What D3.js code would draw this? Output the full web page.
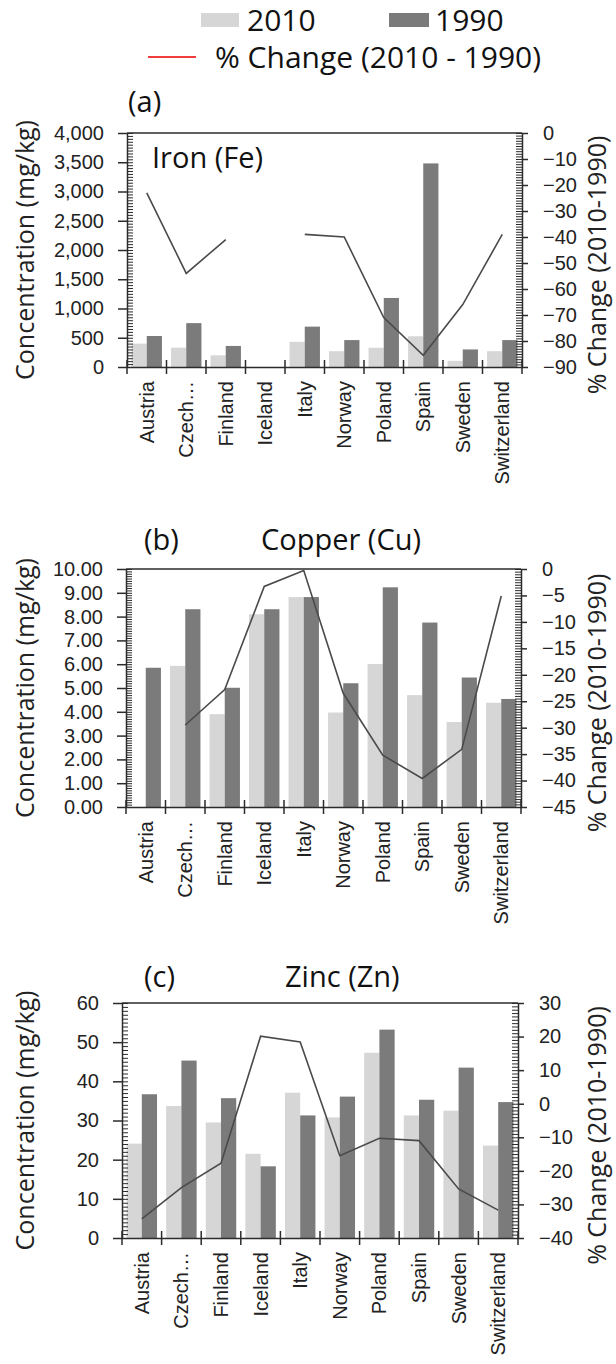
<!DOCTYPE html>
<html>
<head>
<meta charset="utf-8">
<script src="https://cdn.jsdelivr.net/npm/d3@7"></script>
<style>
  body { margin: 0; background: #fff; }
  svg { display: block; font-family: 'Open Sans', sans-serif; }
</style>
</head>
<body>
<div id="chart"></div>
<script>
// ---- data ----
const countries = ['Austria', 'Czech…', 'Finland', 'Iceland', 'Italy', 'Norway', 'Poland', 'Spain', 'Sweden', 'Switzerland'];

const fe2010 = [400, 330, 200, null, 430, 270, 330, 525, 105, 270];
const fe1990 = [530, 750, 360, null, 690, 460, 1180, 3480, 300, 460];
const feChange = [-23, -54, -41, null, -39, -40, -71, -85.5, -66, -39];

const cu2010 = [null, 5.93, 3.90, 8.10, 8.82, 3.97, 6.01, 4.70, 3.57, 4.38];
const cu1990 = [5.85, 8.31, 5.01, 8.31, 8.82, 5.20, 9.23, 7.75, 5.44, 4.54];
const cuChange = [null, -29.5, -22.8, -3.3, -0.3, -23.5, -35.2, -39.6, -34.1, -5.1];

const zn2010 = [24.1, 33.7, 29.5, 21.5, 37.1, 30.8, 47.3, 31.3, 32.5, 23.6];
const zn1990 = [36.7, 45.3, 35.7, 18.3, 31.3, 36.1, 53.2, 35.3, 43.5, 34.7];
const znChange = [-34.3, -25, -17.7, 20.1, 18.4, -15.5, -10.3, -11, -25.4, -31.7];

const legendLabels = ['2010', '1990', '% Change (2010 - 1990)'];

const colors = { y2010: '#d6d6d6', y1990: '#7b7b7b', line: '#4a4a4a', legendLine: '#f03c3c', axis: '#2b2b2b' };

const svg = d3.select('#chart').append('svg')
    .attr('width', 616)
    .attr('height', 1364);

class ComboChart {

  constructor(_config, _data) {
    this.config = _config;
    this.data = _data;
    this.initVis();
  }

  initVis() {
    let vis = this;
    const c = vis.config;

    vis.chart = svg.append('g');

    vis.x = d3.scaleBand()
        .domain(countries)
        .range([c.left, c.right]);

    vis.xSub = d3.scaleBand()
        .domain(['2010', '1990'])
        .range([0, vis.x.bandwidth()])
        .paddingInner(0)
        .paddingOuter(0.3);

    vis.y = d3.scaleLinear().domain(c.yDomain).range([c.bottom, c.top]);
    vis.y2 = d3.scaleLinear().domain(c.y2Domain).range([c.bottom, c.top]);

    vis.renderVis();
  }

  renderVis() {
    let vis = this;
    const c = vis.config;

    const rows = countries.map((d, i) => ({
      country: d, v2010: vis.data.a[i], v1990: vis.data.b[i], change: vis.data.change[i]
    }));

    // bars
    const bars = [];
    rows.forEach(r => {
      if (r.v2010 != null) bars.push({ country: r.country, key: '2010', value: r.v2010 });
      if (r.v1990 != null) bars.push({ country: r.country, key: '1990', value: r.v1990 });
    });

    vis.chart.selectAll('.bar')
        .data(bars)
      .join('rect')
        .attr('class', 'bar')
        .attr('x', d => vis.x(d.country) + vis.xSub(d.key))
        .attr('width', vis.xSub.bandwidth())
        .attr('y', d => vis.y(d.value))
        .attr('height', d => vis.y(0) - vis.y(d.value))
        .attr('fill', d => d.key === '2010' ? colors.y2010 : colors.y1990);

    // minor ticks (inside) on both vertical axes
    const minorL = d3.range(0, Math.round((c.yDomain[1] - c.yDomain[0]) / c.yMinor) + 1)
        .map(i => c.yDomain[0] + i * c.yMinor);
    const minorR = d3.range(0, Math.round((c.y2Domain[1] - c.y2Domain[0]) / c.y2Minor) + 1)
        .map(i => c.y2Domain[0] + i * c.y2Minor);

    vis.chart.append('g')
        .attr('transform', `translate(${c.left},0)`)
        .call(d3.axisRight(vis.y).tickValues(minorL).tickSize(6).tickFormat('').tickSizeOuter(0))
        .call(g => g.select('.domain').remove())
        .call(g => g.selectAll('line').attr('stroke', colors.axis).attr('stroke-width', 1));

    vis.chart.append('g')
        .attr('transform', `translate(${c.right},0)`)
        .call(d3.axisLeft(vis.y2).tickValues(minorR).tickSize(6).tickFormat('').tickSizeOuter(0))
        .call(g => g.select('.domain').remove())
        .call(g => g.selectAll('line').attr('stroke', colors.axis).attr('stroke-width', 1));

    // left axis
    const yTicks = d3.range(0, Math.round((c.yDomain[1] - c.yDomain[0]) / c.yStep) + 1)
        .map(i => c.yDomain[0] + i * c.yStep);
    vis.chart.append('g')
        .attr('transform', `translate(${c.left},0)`)
        .call(d3.axisLeft(vis.y).tickValues(yTicks).tickSize(9).tickSizeOuter(0)
            .tickPadding(14).tickFormat(c.yFormat))
        .call(g => g.selectAll('line').attr('stroke', colors.axis).attr('stroke-width', 1.5))
        .call(g => g.select('.domain').attr('stroke', colors.axis).attr('stroke-width', 1.5))
        .call(g => g.selectAll('text').attr('font-size', 20).attr('fill', '#222'));

    // right axis
    const y2Ticks = d3.range(0, Math.round((c.y2Domain[1] - c.y2Domain[0]) / c.y2Step) + 1)
        .map(i => c.y2Domain[0] + i * c.y2Step);
    vis.chart.append('g')
        .attr('transform', `translate(${c.right},0)`)
        .call(d3.axisRight(vis.y2).tickValues(y2Ticks).tickSize(6).tickSizeOuter(0)
            .tickPadding(15).tickFormat(d3.format('d')))
        .call(g => g.selectAll('line').attr('stroke', colors.axis).attr('stroke-width', 1.5))
        .call(g => g.select('.domain').attr('stroke', colors.axis).attr('stroke-width', 1.5))
        .call(g => g.selectAll('text').attr('font-size', 20).attr('fill', '#222'));

    // top frame line
    vis.chart.append('line')
        .attr('x1', c.left).attr('x2', c.right)
        .attr('y1', c.top).attr('y2', c.top)
        .attr('stroke', colors.axis).attr('stroke-width', 1.5);

    // bottom axis: labels rotated, ticks at category boundaries
    vis.chart.append('g')
        .attr('transform', `translate(0,${c.bottom})`)
        .call(d3.axisBottom(vis.x).tickSize(0).tickSizeOuter(0))
        .call(g => g.select('.domain').attr('stroke', colors.axis).attr('stroke-width', 1.5))
        .call(g => g.selectAll('text')
            .attr('transform', 'rotate(-90)')
            .attr('x', -14).attr('y', 0).attr('dy', '0.35em')
            .attr('text-anchor', 'end')
            .attr('font-size', 20).attr('fill', '#222'));

    const bounds = countries.map(d => vis.x(d)).concat([c.right]);
    vis.chart.selectAll('.xtick')
        .data(bounds)
      .join('line')
        .attr('class', 'xtick')
        .attr('x1', d => d).attr('x2', d => d)
        .attr('y1', c.bottom - 7).attr('y2', c.bottom + 7)
        .attr('stroke', colors.axis).attr('stroke-width', 1.5);

    // % change line
    const line = d3.line()
        .defined(d => d.change != null)
        .x(d => vis.x(d.country) + vis.x.bandwidth() / 2)
        .y(d => vis.y2(d.change));

    vis.chart.append('path')
        .datum(rows)
        .attr('d', line)
        .attr('fill', 'none')
        .attr('stroke', colors.line)
        .attr('stroke-width', 1.6);

    // axis titles
    vis.chart.append('text')
        .attr('transform', `translate(25,${(c.top + c.bottom) / 2}) rotate(-90)`)
        .attr('text-anchor', 'middle')
        .attr('dy', '0.35em')
        .attr('font-size', 25)
        .attr('fill', '#222')
        .text('Concentration (mg/kg)');

    vis.chart.append('text')
        .attr('transform', `translate(597,${(c.top + c.bottom) / 2 + 15}) rotate(-90)`)
        .attr('text-anchor', 'middle')
        .attr('dy', '0.35em')
        .attr('font-size', 25)
        .attr('fill', '#222')
        .text('% Change (2010-1990)');

    // panel labels
    vis.chart.append('text')
        .attr('x', c.labelX).attr('y', c.labelY)
        .attr('font-size', 29).attr('fill', '#111')
        .text(c.label);

    vis.chart.append('text')
        .attr('x', c.titleX).attr('y', c.titleY)
        .attr('font-size', 29).attr('fill', '#111')
        .text(c.title);
  }
}

// legend
const legend = svg.append('g');
legend.append('rect').attr('x', 201).attr('y', 13).attr('width', 38).attr('height', 14).attr('fill', colors.y2010);
legend.append('text').attr('x', 247).attr('y', 20).attr('dy', '0.35em').attr('font-size', 30).attr('fill', '#111').text(legendLabels[0]);
legend.append('rect').attr('x', 389).attr('y', 13).attr('width', 40).attr('height', 14).attr('fill', colors.y1990);
legend.append('text').attr('x', 435).attr('y', 20).attr('dy', '0.35em').attr('font-size', 30).attr('fill', '#111').text(legendLabels[1]);
legend.append('line').attr('x1', 148).attr('x2', 196).attr('y1', 57).attr('y2', 57)
    .attr('stroke', colors.legendLine).attr('stroke-width', 2);
legend.append('text').attr('x', 215).attr('y', 57).attr('dy', '0.35em').attr('font-size', 30).attr('fill', '#111').text(legendLabels[2]);

new ComboChart({
  left: 127, right: 522, top: 133, bottom: 367,
  yDomain: [0, 4000], yStep: 500, yMinor: 50, yFormat: d3.format(','),
  y2Domain: [-90, 0], y2Step: 10, y2Minor: 1,
  label: '(a)', labelX: 128, labelY: 112,
  title: 'Iron (Fe)', titleX: 152, titleY: 168
}, { a: fe2010, b: fe1990, change: feChange });

new ComboChart({
  left: 126, right: 521, top: 569, bottom: 807,
  yDomain: [0, 10], yStep: 1, yMinor: 0.1, yFormat: d3.format('.2f'),
  y2Domain: [-45, 0], y2Step: 5, y2Minor: 0.5,
  label: '(b)', labelX: 144, labelY: 550,
  title: 'Copper (Cu)', titleX: 261, titleY: 550
}, { a: cu2010, b: cu1990, change: cuChange });

new ComboChart({
  left: 122, right: 518, top: 1003, bottom: 1238,
  yDomain: [0, 60], yStep: 10, yMinor: 1, yFormat: d3.format('d'),
  y2Domain: [-40, 30], y2Step: 10, y2Minor: 1,
  label: '(c)', labelX: 144, labelY: 987,
  title: 'Zinc (Zn)', titleX: 285, titleY: 987
}, { a: zn2010, b: zn1990, change: znChange });
</script>
</body>
</html>
